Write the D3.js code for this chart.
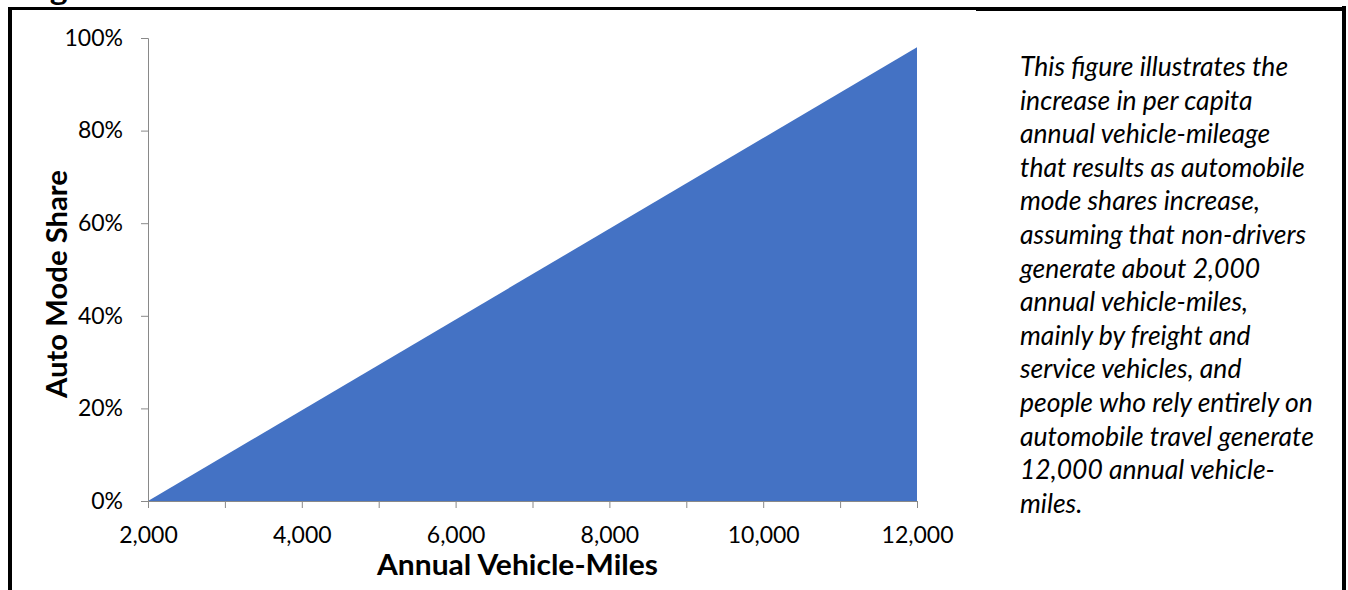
<!DOCTYPE html>
<html>
<head>
<meta charset="utf-8">
<script src="https://cdn.jsdelivr.net/npm/d3@7"></script>
<style>
  html, body { margin: 0; padding: 0; background: #fff; }
  svg { display: block; }
</style>
</head>
<body>
<svg id="chart" width="1348" height="590"></svg>
<script>
// ---- data ----
const miles = [2000, 12000];
const autoShare = [0, 0.98];
const xTickValues = [2000, 3000, 4000, 5000, 6000, 7000, 8000, 9000, 10000, 11000, 12000];
const xLabelValues = [2000, 4000, 6000, 8000, 10000, 12000];
const yTickValues = [0, 0.2, 0.4, 0.6, 0.8, 1.0];
const xTitle = "Annual Vehicle-Miles";
const yTitle = "Auto Mode Share";
const figTitle = "Figure 3  Vehicle-Miles Versus Automobile Mode Share";
const noteLines = [
  "This figure illustrates the",
  "increase in per capita",
  "annual vehicle-mileage",
  "that results as automobile",
  "mode shares increase,",
  "assuming that non-drivers",
  "generate about 2,000",
  "annual vehicle-miles,",
  "mainly by freight and",
  "service vehicles, and",
  "people who rely entirely on",
  "automobile travel generate",
  "12,000 annual vehicle-",
  "miles."
];

// ---- layout ----
const svg = d3.select("#chart");
const x = d3.scaleLinear().domain([2000, 12000]).range([148, 917]);
const y = d3.scaleLinear().domain([0, 1]).range([501, 38]);
const axisColor = "#898989";
const font = "Lato, 'Open Sans', sans-serif";

// clipped figure title (only bottoms visible, as in the source page)
svg.append("text")
  .attr("x", 22).attr("y", -0.5)
  .attr("textLength", 814).attr("lengthAdjust", "spacingAndGlyphs")
  .attr("font-family", font).attr("font-weight", "bold").attr("font-size", 28)
  .attr("fill", "#000")
  .text(figTitle);

// page frame
svg.append("rect").attr("x", 8).attr("y", 7).attr("width", 968).attr("height", 3).attr("fill", "#000");
svg.append("rect").attr("x", 976).attr("y", 7).attr("width", 370).attr("height", 4).attr("fill", "#000");
svg.append("rect").attr("x", 8).attr("y", 7).attr("width", 4).attr("height", 583).attr("fill", "#000");
svg.append("rect").attr("x", 1342).attr("y", 6).attr("width", 4).attr("height", 584).attr("fill", "#000");

// area
const pts = miles.map((m, i) => [m, autoShare[i]]);
const area = d3.area()
  .x(d => x(d[0]))
  .y0(y(0))
  .y1(d => y(d[1]));
svg.append("path").datum(pts).attr("d", area).attr("fill", "#4472C4");

// x axis
const xAxis = d3.axisBottom(x)
  .tickValues(xTickValues)
  .tickSize(7)
  .tickFormat(d => xLabelValues.includes(d) ? d3.format(",")(d) : "");
const gx = svg.append("g").attr("transform", `translate(0,${y(0)})`).call(xAxis);
gx.select(".domain").attr("stroke", axisColor);
gx.selectAll(".tick line").attr("stroke", axisColor);
gx.selectAll("text").attr("y", 42).attr("dy", "0")
  .attr("font-family", font).attr("font-size", 23).attr("fill", "#000");

// y axis
const yAxis = d3.axisLeft(y)
  .tickValues(yTickValues)
  .tickSize(7)
  .tickPadding(18)
  .tickFormat(d3.format(".0%"));
const gy = svg.append("g").attr("transform", `translate(${x(2000)},0)`).call(yAxis);
gy.select(".domain").attr("stroke", axisColor);
gy.selectAll(".tick line").attr("stroke", axisColor);
gy.selectAll("text").attr("font-family", font).attr("font-size", 23).attr("fill", "#000");
gx.select(".domain").raise();

// axis titles
svg.append("text")
  .attr("x", 517.5).attr("y", 575)
  .attr("text-anchor", "middle")
  .attr("textLength", 281).attr("lengthAdjust", "spacingAndGlyphs")
  .attr("font-family", font).attr("font-weight", "bold").attr("font-size", 28)
  .attr("fill", "#000")
  .text(xTitle);

svg.append("text")
  .attr("transform", "translate(66.5,284) rotate(-90)")
  .attr("text-anchor", "middle")
  .attr("textLength", 228).attr("lengthAdjust", "spacingAndGlyphs")
  .attr("font-family", font).attr("font-weight", "bold").attr("font-size", 28)
  .attr("fill", "#000")
  .text(yTitle);

// note text
const note = svg.append("g");
note.selectAll("text").data(noteLines).enter().append("text")
  .attr("x", 1020)
  .attr("y", (d, i) => 76 + 33.6 * i)
  .attr("font-family", font).attr("font-style", "italic").attr("font-size", 26.5)
  .attr("fill", "#000")
  .text(d => d);
</script>
</body>
</html>
